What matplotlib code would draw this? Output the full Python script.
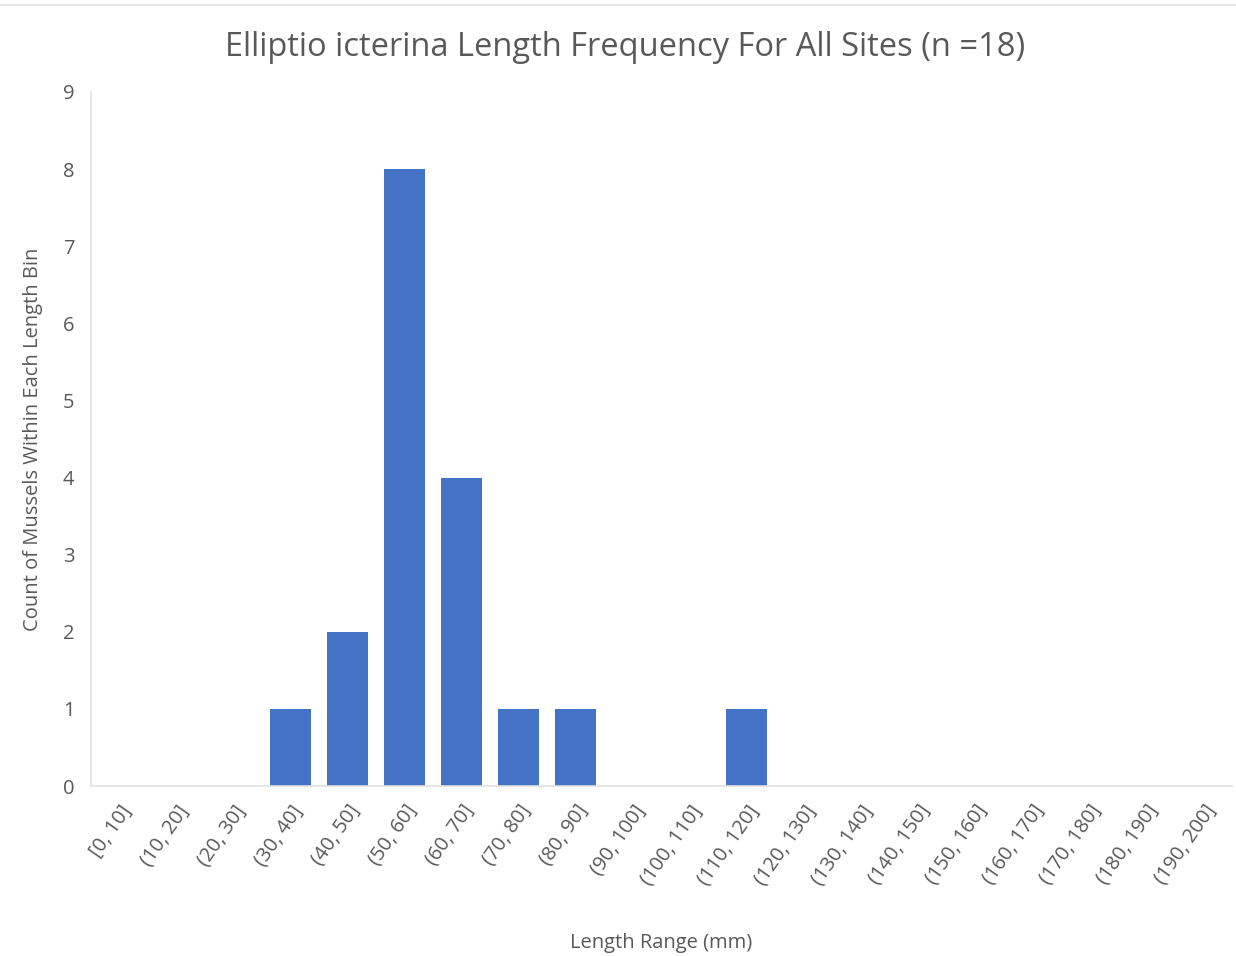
import matplotlib.pyplot as plt
import numpy as np

plt.rcParams['font.family'] = ['Open Sans', 'DejaVu Sans']

bins = ['[0, 10]', '(10, 20]', '(20, 30]', '(30, 40]', '(40, 50]', '(50, 60]',
        '(60, 70]', '(70, 80]', '(80, 90]', '(90, 100]', '(100, 110]', '(110, 120]',
        '(120, 130]', '(130, 140]', '(140, 150]', '(150, 160]', '(160, 170]',
        '(170, 180]', '(180, 190]', '(190, 200]']
counts = [0, 0, 0, 1, 2, 8, 4, 1, 1, 0, 0, 1, 0, 0, 0, 0, 0, 0, 0, 0]

grey = '#595959'

fig = plt.figure(figsize=(12.36, 9.56), dpi=100)
ax = fig.add_axes([0.0736, 0.1778, 0.923, 0.726])

x = np.arange(len(bins))
ax.bar(x, counts, width=0.72, color='#4472C4')

ax.set_xlim(-0.5, len(bins) - 0.5)
ax.set_ylim(0, 9)
ax.set_yticks(range(0, 10))
ax.set_xticks(x)
ax.set_xticklabels(bins, rotation=55, ha='right', rotation_mode='anchor')
ax.tick_params(axis='both', length=0, colors=grey, labelsize=14.5)
ax.tick_params(axis='y', pad=12)
ax.tick_params(axis='x', pad=11)

for s in ['top', 'right']:
    ax.spines[s].set_visible(False)
for s in ['left', 'bottom']:
    ax.spines[s].set_color('#e0e0e0')
    ax.spines[s].set_linewidth(1.2)

ax.set_xlabel('Length Range (mm)', color=grey, fontsize=14.5, labelpad=32)
ax.set_ylabel('Count of Mussels Within Each Length Bin', color=grey, fontsize=14.5, labelpad=14)
fig.text(0.506, 0.950, 'Elliptio icterina Length Frequency For All Sites (n =18)',
         ha='center', va='center', color=grey, fontsize=23.5)

fig.add_artist(plt.Line2D([0, 1], [0.995, 0.995], color='#e6e6e6', lw=1.5))

plt.savefig('out.png', dpi=100)
